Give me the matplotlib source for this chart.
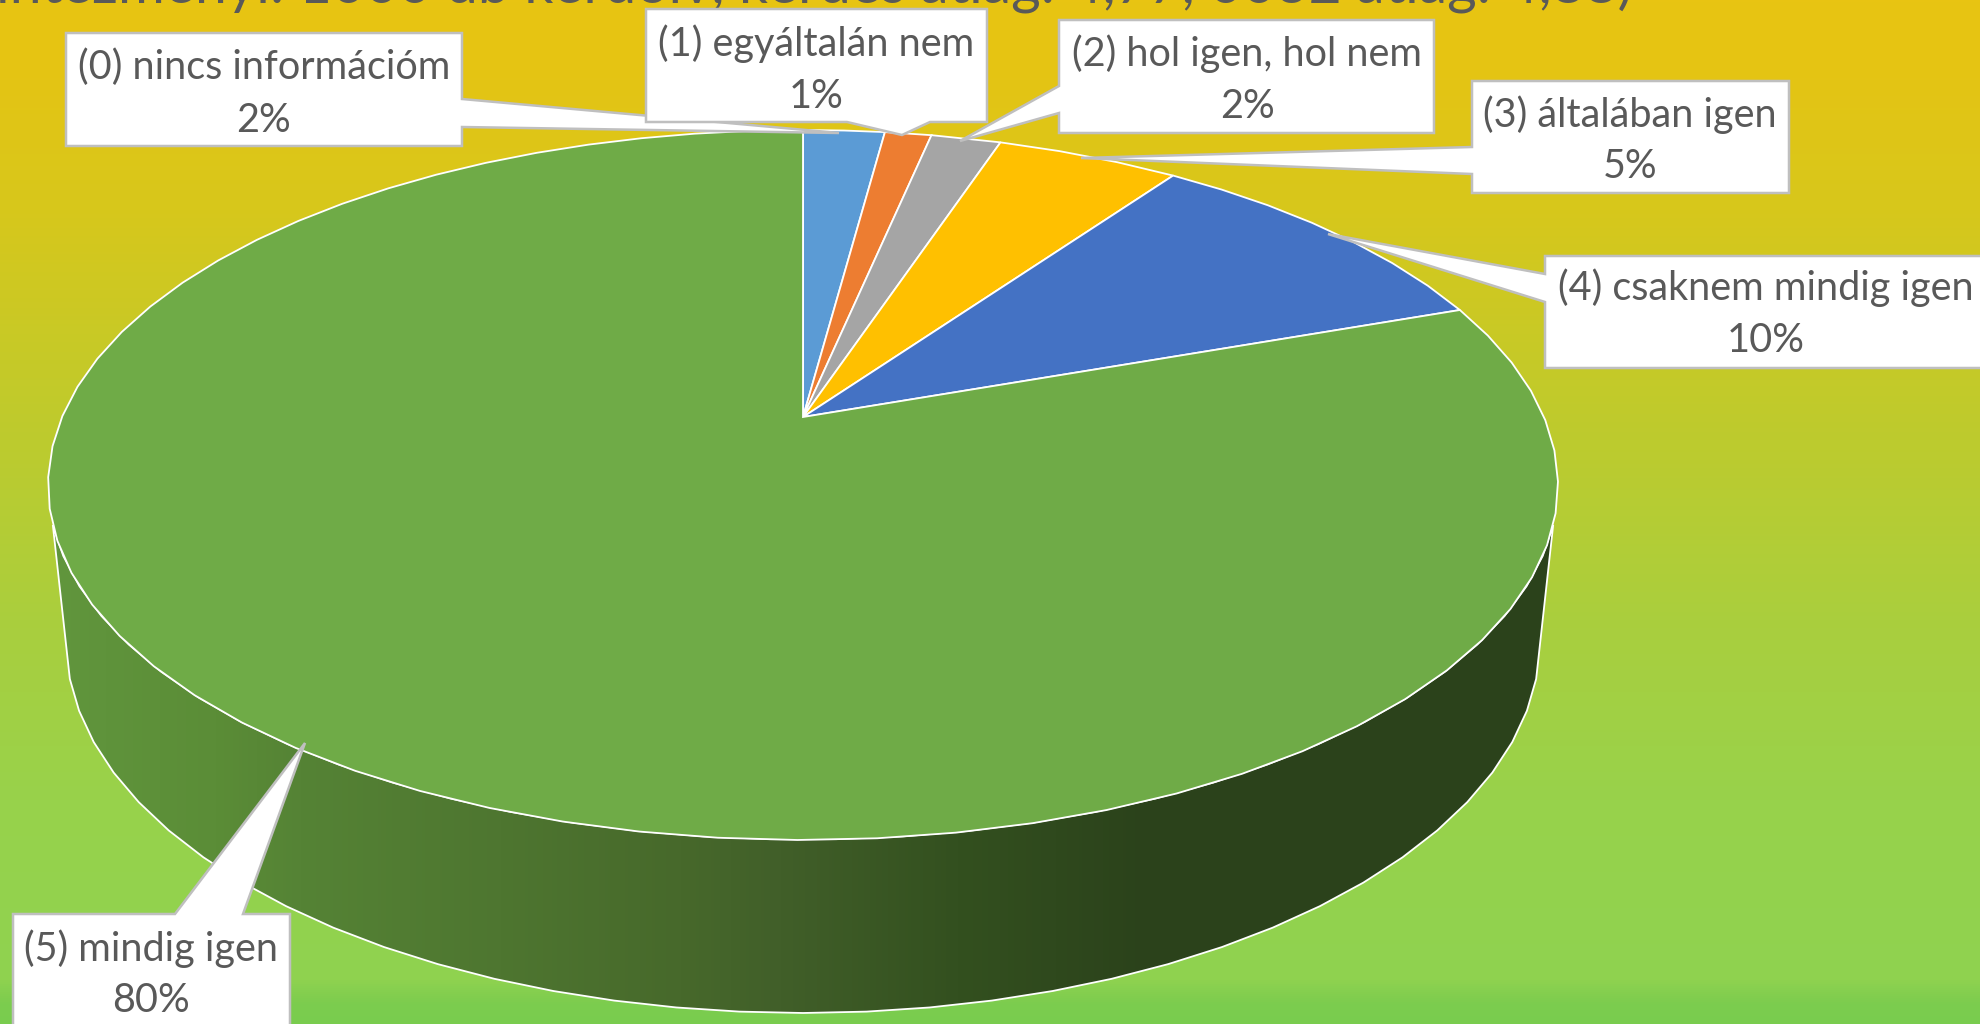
import numpy as np
import matplotlib
matplotlib.use('Agg')
import matplotlib.pyplot as plt
from matplotlib.colors import LinearSegmentedColormap
from matplotlib.patches import Polygon

plt.rcParams['font.family'] = ['Lato', 'DejaVu Sans']

# chart values
categories = ['(0) nincs információm', '(1) egyáltalán nem', '(2) hol igen, hol nem',
              '(3) általában igen', '(4) csaknem mindig igen', '(5) mindig igen']
percent_labels = ['2%', '1%', '2%', '5%', '10%', '80%']
values = [2.1, 1.2, 1.8, 4.7, 9.8, 80.4]
colors = ['#5B9BD5', '#ED7D31', '#A5A5A5', '#FFC000', '#4472C4', '#6FAB47']
title = 'intézményi: 1000 db kérdőív, kérdés átlag: 4,77, 0032 átlag: 4,88)'

# pie geometry in pixels (perspective view of a circle)
cx, apex_y = 803, 417
top_far, top_near = 287, 423
k = (top_near - top_far) / (top_near + top_far)
alpha = top_far * (1 + k)
beta = 755 * np.sqrt(1 - k ** 2)
top_cy, top_a, top_b = 485, 755, 354.5
bot_cy, bot_a, bot_b = 641, 737, 372
facet = 5  # the original outline is made of short straight pieces


def rim(theta):
    # theta in radians, clockwise from 12 o'clock
    X, Y = np.sin(theta), np.cos(theta)
    d = 1 + k * Y
    return np.column_stack([cx + beta * X / d, apex_y - alpha * Y / d])


def ellipse(t, cy, a, b):
    return np.column_stack([cx + a * np.cos(t), cy + b * np.sin(t)])


def arc_steps(a, b):
    n = max(2, int(round((b - a) / facet)) + 1)
    return np.radians(np.linspace(a, b, n))


fig = plt.figure(figsize=(19.8, 10.24), dpi=100)
ax = fig.add_axes([0, 0, 1, 1])

# background
bg_stops = [(0, '#E8C412'), (60, '#E6C413'), (200, '#D8C71B'), (440, '#BDCB2E'), (640, '#A8CF3F'),
            (800, '#98D24B'), (980, '#8FD250'), (1005, '#7CCC4E'), (1024, '#79CC4E')]
bg_cmap = LinearSegmentedColormap.from_list('bg', [(p / 1024, c) for p, c in bg_stops], N=512)
ax.imshow(np.linspace(0, 1, 1024)[:, None], cmap=bg_cmap, extent=[0, 1980, 1024, 0], aspect='auto', zorder=0)

# side wall with horizontal gradient
start_top = np.degrees(np.arcsin((525 - top_cy) / top_b))
start_bot = np.degrees(np.arcsin((679 - bot_cy) / bot_b))
t_top = arc_steps(start_top, 180 - start_top)
t_bot = arc_steps(start_bot, 180 - start_bot)
wall_pts = np.vstack([ellipse(t_top, top_cy, top_a, top_b), ellipse(t_bot[::-1], bot_cy, bot_a, bot_b)])
wall = Polygon(wall_pts, closed=True, facecolor='none', edgecolor='#FFFFFF', lw=1.3, zorder=2)
ax.add_patch(wall)
wall_stops = [(50, '#61963D'), (213, '#5B8D37'), (300, '#558335'), (500, '#4E7630'), (680, '#47692B'),
              (780, '#415F29'), (960, '#33501F'), (1150, '#2B421B'), (1560, '#2C431C')]
wall_cmap = LinearSegmentedColormap.from_list(
    'wall', [((p - 50) / 1510, c) for p, c in wall_stops], N=512)
grad = ax.imshow(np.linspace(0, 1, 1510)[None, :], cmap=wall_cmap, extent=[50, 1560, 1024, 400],
                 aspect='auto', zorder=1)
grad.set_clip_path(Polygon(wall_pts, closed=True, transform=ax.transData))

# top slices
edges = np.cumsum([0] + values) / sum(values) * 360
for i in range(len(values)):
    theta = arc_steps(edges[i], edges[i + 1])
    pts = np.vstack([[[cx, apex_y]], rim(theta)])
    ax.add_patch(Polygon(pts, closed=True, facecolor=colors[i], edgecolor='#FFFFFF', lw=1.3, zorder=3))

# callouts: box (x0, y0, x1, y1), pointer root points, tip, text centre x and the two text rows
box_edge = '#BFBFBF'
callouts = [
    ((66, 33, 462, 146), [(462, 99), (839, 133), (462, 127)], 264, 67, 120),
    ((646, 9, 987, 122), [(930, 122), (902, 135), (847, 122)], 816, 44, 96),
    ((1059, 20, 1434, 133), [(1059, 86), (960, 141), (1059, 113)], 1247, 54, 106),
    ((1472, 81, 1789, 193), [(1472, 147), (1081, 158), (1472, 174)], 1630, 115, 167),
    ((1545, 256, 2000, 368), [(1545, 274), (1328, 234), (1545, 302)], 1766, 288, 341),
    ((13, 914, 290, 1040), [(175, 914), (305, 743), (243, 914)], 151, 949, 1000),
]
for i, (box, ptr, tx, y1, y2) in enumerate(callouts):
    x0, y0, x1, y1b = box
    # walk the box outline and splice the pointer into the side it leaves from
    if ptr[0][0] == x0:
        outline = [(x0, y0), ptr[0], ptr[1], ptr[2], (x0, y1b), (x1, y1b), (x1, y0)]
    elif ptr[0][0] == x1:
        outline = [(x0, y0), (x1, y0), ptr[0], ptr[1], ptr[2], (x1, y1b), (x0, y1b)]
    elif ptr[0][1] == y1b:
        outline = [(x0, y0), (x1, y0), (x1, y1b), ptr[0], ptr[1], ptr[2], (x0, y1b)]
    else:
        outline = [(x0, y0), ptr[0], ptr[1], ptr[2], (x1, y0), (x1, y1b), (x0, y1b)]
    ax.add_patch(Polygon(outline, closed=True, facecolor='white', edgecolor=box_edge, lw=1.8, zorder=5))
    ax.text(tx, y1, categories[i], ha='center', va='center', fontsize=28.5, color='#595959', zorder=6)
    ax.text(tx, y2, percent_labels[i], ha='center', va='center', fontsize=28.5, color='#595959', zorder=6)

# title is cut by the top edge in the original
ax.text(-4, 3, title, ha='left', va='baseline', fontsize=41, color='#595959', zorder=4)

ax.set_xlim(0, 1980)
ax.set_ylim(1024, 0)
ax.axis('off')
fig.savefig('out.png', dpi=100)
